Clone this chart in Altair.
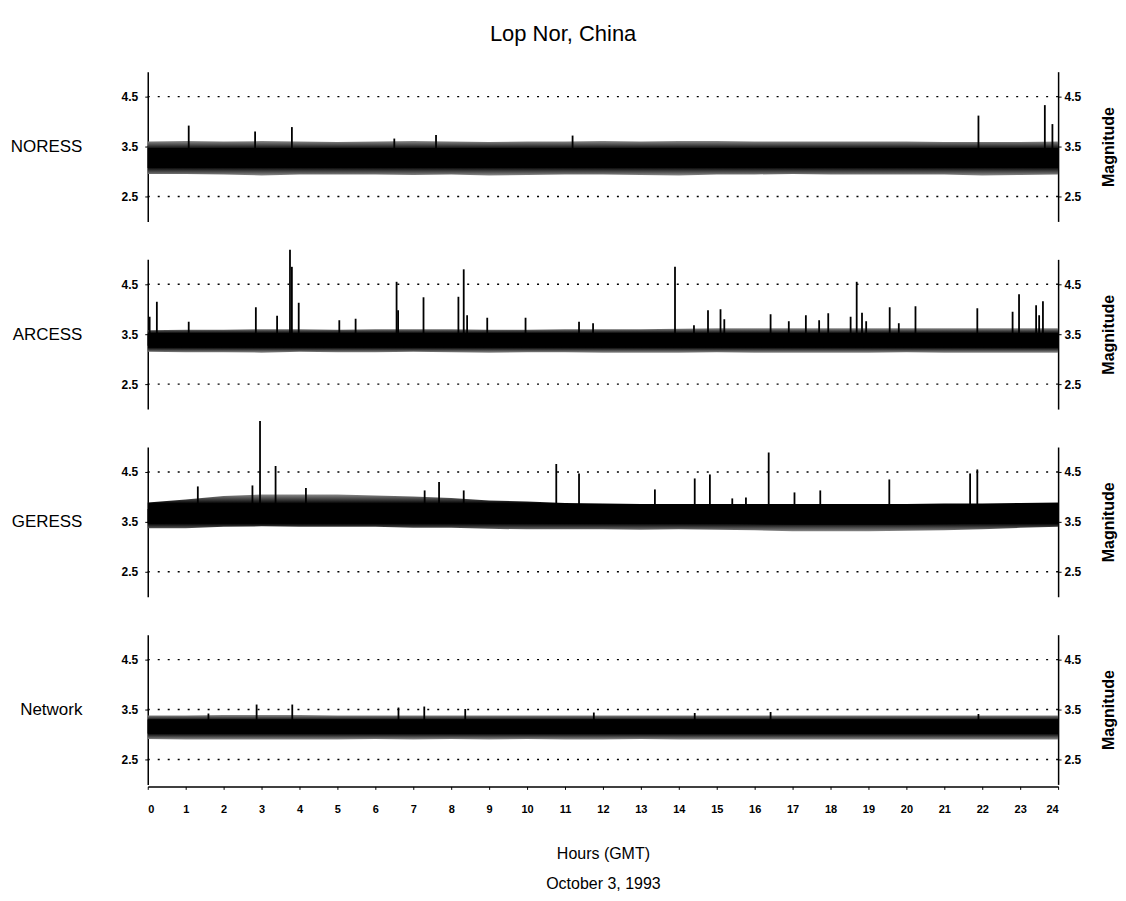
import altair as alt
import pandas as pd

FONT = "Liberation Sans"

HOURS = list(range(25))
STATIONS = ["NORESS", "ARCESS", "GERESS", "Network"]

# Outer envelope of the noisy magnitude trace, read hourly (0..24 h)
NORESS_HIGH = [3.60, 3.61, 3.60, 3.61, 3.60, 3.59, 3.60, 3.61, 3.60, 3.59, 3.60, 3.60, 3.61,
               3.60, 3.61, 3.61, 3.60, 3.60, 3.60, 3.60, 3.60, 3.59, 3.59, 3.59, 3.60]
NORESS_LOW = [2.95, 2.95, 2.94, 2.92, 2.94, 2.94, 2.94, 2.93, 2.94, 2.92, 2.93, 2.94, 2.94,
              2.93, 2.92, 2.94, 2.94, 2.95, 2.94, 2.94, 2.94, 2.94, 2.92, 2.93, 2.94]
ARCESS_HIGH = [3.58, 3.59, 3.59, 3.60, 3.60, 3.59, 3.60, 3.60, 3.60, 3.59, 3.59, 3.60, 3.60,
               3.60, 3.61, 3.62, 3.62, 3.62, 3.62, 3.62, 3.62, 3.62, 3.62, 3.62, 3.62]
ARCESS_LOW = [3.15, 3.14, 3.14, 3.13, 3.15, 3.14, 3.14, 3.15, 3.14, 3.13, 3.14, 3.14, 3.13,
              3.13, 3.13, 3.14, 3.13, 3.13, 3.13, 3.13, 3.14, 3.13, 3.13, 3.13, 3.13]
GERESS_HIGH = [3.89, 3.95, 4.02, 4.05, 4.05, 4.05, 4.03, 4.01, 3.98, 3.93, 3.91, 3.88, 3.87,
               3.86, 3.86, 3.86, 3.86, 3.86, 3.86, 3.86, 3.86, 3.87, 3.87, 3.88, 3.89]
GERESS_LOW = [3.37, 3.37, 3.40, 3.41, 3.40, 3.40, 3.40, 3.38, 3.38, 3.36, 3.35, 3.35, 3.35,
              3.34, 3.35, 3.34, 3.33, 3.31, 3.31, 3.31, 3.32, 3.33, 3.35, 3.38, 3.40]
NETWORK_HIGH = [3.38, 3.38, 3.39, 3.39, 3.39, 3.38, 3.38, 3.38, 3.38, 3.38, 3.38, 3.38, 3.38,
                3.38, 3.38, 3.38, 3.38, 3.38, 3.38, 3.38, 3.38, 3.38, 3.38, 3.38, 3.38]
NETWORK_LOW = [2.91, 2.90, 2.90, 2.90, 2.90, 2.90, 2.91, 2.90, 2.91, 2.90, 2.91, 2.90, 2.90,
               2.91, 2.90, 2.90, 2.90, 2.90, 2.90, 2.90, 2.90, 2.90, 2.90, 2.90, 2.90]

# Dense core of the trace
NORESS_CORE_HIGH = [3.47] * 25
NORESS_CORE_LOW = [3.07] * 25
ARCESS_CORE_HIGH = [3.48] * 25
ARCESS_CORE_LOW = [3.27] * 25
GERESS_CORE_HIGH = [3.76, 3.80, 3.83, 3.84, 3.84, 3.84, 3.83, 3.82, 3.80, 3.78, 3.76, 3.75, 3.74,
                    3.74, 3.74, 3.74, 3.73, 3.73, 3.73, 3.73, 3.74, 3.74, 3.75, 3.76, 3.77]
GERESS_CORE_LOW = [3.47, 3.48, 3.50, 3.50, 3.49, 3.49, 3.49, 3.48, 3.48, 3.47, 3.47, 3.46, 3.46,
                   3.46, 3.46, 3.46, 3.45, 3.44, 3.44, 3.44, 3.44, 3.45, 3.46, 3.47, 3.48]
NETWORK_CORE_HIGH = [3.30] * 25
NETWORK_CORE_LOW = [3.02] * 25

# Isolated event spikes (hour, peak magnitude)
NORESS_SPIKE_T = [1.08, 2.83, 3.80, 6.50, 7.60, 11.20, 21.90, 23.65, 23.85]
NORESS_SPIKE_M = [3.92, 3.80, 3.89, 3.66, 3.73, 3.72, 4.12, 4.33, 3.95]
ARCESS_SPIKE_T = [0.05, 0.24, 1.08, 2.85, 3.41, 3.75, 3.80, 3.98, 5.05, 5.48, 6.56, 6.60, 7.27,
                  8.19, 8.33, 8.42, 8.95, 9.96, 11.37, 11.74, 13.90, 14.40, 14.77, 15.10, 15.20,
                  16.42, 16.90, 17.35, 17.70, 17.94, 18.53, 18.69, 18.83, 18.94, 19.56, 19.80,
                  20.24, 21.87, 22.80, 22.97, 23.42, 23.50, 23.60]
ARCESS_SPIKE_M = [3.85, 4.15, 3.75, 4.04, 3.87, 5.19, 4.85, 4.13, 3.78, 3.81, 4.55, 3.98, 4.24,
                  4.25, 4.80, 3.88, 3.83, 3.83, 3.75, 3.72, 4.85, 3.68, 3.98, 4.00, 3.80,
                  3.90, 3.76, 3.88, 3.78, 3.92, 3.85, 4.55, 3.93, 3.76, 4.04, 3.72,
                  4.06, 4.02, 3.95, 4.30, 4.08, 3.88, 4.16]
GERESS_SPIKE_T = [1.32, 2.76, 2.96, 3.37, 4.17, 7.30, 7.68, 8.33, 10.77, 11.37, 13.37, 14.42,
                  14.82, 15.41, 15.77, 16.37, 17.05, 17.73, 19.55, 21.68, 21.87]
GERESS_SPIKE_M = [4.21, 4.23, 5.52, 4.62, 4.18, 4.13, 4.30, 4.13, 4.66, 4.47, 4.15, 4.37,
                  4.45, 3.97, 3.99, 4.89, 4.09, 4.13, 4.35, 4.47, 4.55]
NETWORK_SPIKE_T = [1.60, 2.87, 3.81, 6.61, 7.29, 8.37, 11.76, 14.42, 16.42, 21.90]
NETWORK_SPIKE_M = [3.42, 3.60, 3.60, 3.54, 3.56, 3.51, 3.44, 3.43, 3.45, 3.41]

SPIKE_BASE = {"NORESS": 3.45, "ARCESS": 3.45, "GERESS": 3.75, "Network": 3.28}
GRID_VALUES = [2.5, 3.5, 4.5]

BANDS = {
    "NORESS": (NORESS_LOW, NORESS_HIGH, NORESS_CORE_LOW, NORESS_CORE_HIGH, NORESS_SPIKE_T, NORESS_SPIKE_M),
    "ARCESS": (ARCESS_LOW, ARCESS_HIGH, ARCESS_CORE_LOW, ARCESS_CORE_HIGH, ARCESS_SPIKE_T, ARCESS_SPIKE_M),
    "GERESS": (GERESS_LOW, GERESS_HIGH, GERESS_CORE_LOW, GERESS_CORE_HIGH, GERESS_SPIKE_T, GERESS_SPIKE_M),
    "Network": (NETWORK_LOW, NETWORK_HIGH, NETWORK_CORE_LOW, NETWORK_CORE_HIGH, NETWORK_SPIKE_T, NETWORK_SPIKE_M),
}

W, H = 912, 150
yscale = alt.Scale(domain=[2, 5], nice=False, zero=False)
xscale = alt.Scale(domain=[0, 24], nice=False, zero=False)

UP_FADE = alt.Gradient(gradient="linear", x1=0, x2=0, y1=0, y2=1, stops=[
    alt.GradientStop(color="#8a8a8a", offset=0), alt.GradientStop(color="#000000", offset=0.3),
    alt.GradientStop(color="#000000", offset=1)])
DOWN_FADE = alt.Gradient(gradient="linear", x1=0, x2=0, y1=0, y2=1, stops=[
    alt.GradientStop(color="#000000", offset=0), alt.GradientStop(color="#000000", offset=0.7),
    alt.GradientStop(color="#8a8a8a", offset=1)])


def x_enc(field, bottom):
    if bottom:
        ax = alt.Axis(values=HOURS, format="d", labelFont=FONT, labelFontSize=11,
                      labelFontWeight="bold", labelColor="black", tickSize=3,
                      tickColor="black", domainColor="black", domainWidth=1.5,
                      labelPadding=14, offset=2, grid=False,
                      title=["Hours (GMT)", "October 3, 1993"], titleFont=FONT,
                      titleFontSize=16, titleFontWeight="normal", titleColor="black",
                      titlePadding=31, titleLineHeight=30)
    else:
        ax = None
    return alt.X(f"{field}:Q", scale=xscale, axis=ax)


def panel(name, bottom=False):
    lo, hi, clo, chi, st, sm = BANDS[name]
    band_df = pd.DataFrame({"t": HOURS, "lo": lo, "hi": hi, "clo": clo, "chi": chi})
    spike_df = pd.DataFrame({"t": st, "m": sm, "base": [SPIKE_BASE[name]] * len(st)})
    grid_df = pd.DataFrame({"v": GRID_VALUES})

    left_axis = alt.Axis(values=GRID_VALUES, format=".1f", labelFont=FONT, labelFontSize=12,
                         labelFontWeight="bold", labelColor="black", tickSize=3,
                         tickColor="black", domainColor="black", domainWidth=1.5,
                         labelPadding=7, grid=False,
                         title=name, titleAngle=0, titleAlign="right", titleBaseline="middle",
                         titleX=-66, titleY=75, titleFont=FONT, titleFontSize=17,
                         titleFontWeight="normal", titleColor="black")
    right_axis = alt.Axis(orient="right", values=GRID_VALUES, format=".1f", labelFont=FONT,
                          labelFontSize=12, labelFontWeight="bold", labelColor="black",
                          tickSize=3, tickColor="black", domainColor="black", domainWidth=1.5,
                          labelPadding=3, grid=False, title="Magnitude", titleAngle=270,
                          titleAlign="center", titleBaseline="middle", titleX=50, titleY=75,
                          titleFont=FONT, titleFontSize=16, titleFontWeight="bold",
                          titleColor="black")

    grid = alt.Chart(grid_df).mark_rule(color="black", strokeDash=[2, 8], strokeWidth=1.4).encode(
        y=alt.Y("v:Q", scale=yscale, axis=None))
    upper = alt.Chart(band_df).mark_area(color=UP_FADE).encode(
        x=x_enc("t", bottom), y=alt.Y("hi:Q", scale=yscale, axis=left_axis), y2="clo:Q")
    lower = alt.Chart(band_df).mark_area(color=DOWN_FADE).encode(
        x=x_enc("t", bottom), y=alt.Y("chi:Q", scale=yscale, axis=None), y2="lo:Q")
    core = alt.Chart(band_df).mark_area(color="black").encode(
        x=x_enc("t", bottom), y=alt.Y("clo:Q", scale=yscale, axis=None), y2="chi:Q")
    spikes = alt.Chart(spike_df).mark_rule(color="black", strokeWidth=1.8).encode(
        x=x_enc("t", bottom), y=alt.Y("m:Q", scale=yscale, axis=None), y2="base:Q")
    right = alt.Chart(grid_df).mark_point(opacity=0).encode(
        y=alt.Y("v:Q", scale=yscale, axis=right_axis))
    return alt.layer(grid, upper, lower, core, spikes, right).resolve_scale(
        y="independent").properties(width=W, height=H)


chart = alt.vconcat(
    panel("NORESS"), panel("ARCESS"), panel("GERESS"), panel("Network", bottom=True),
    spacing=38, bounds="flush",
).properties(
    title=alt.Title("Lop Nor, China", font=FONT, fontSize=22, fontWeight="normal",
                    color="black", anchor="middle", offset=26),
    padding={"left": 2, "right": 2, "top": 14, "bottom": 0},
    background="white",
).configure_view(stroke=None)

chart.save("out.html", embed_options={"renderer": "svg", "actions": False})
